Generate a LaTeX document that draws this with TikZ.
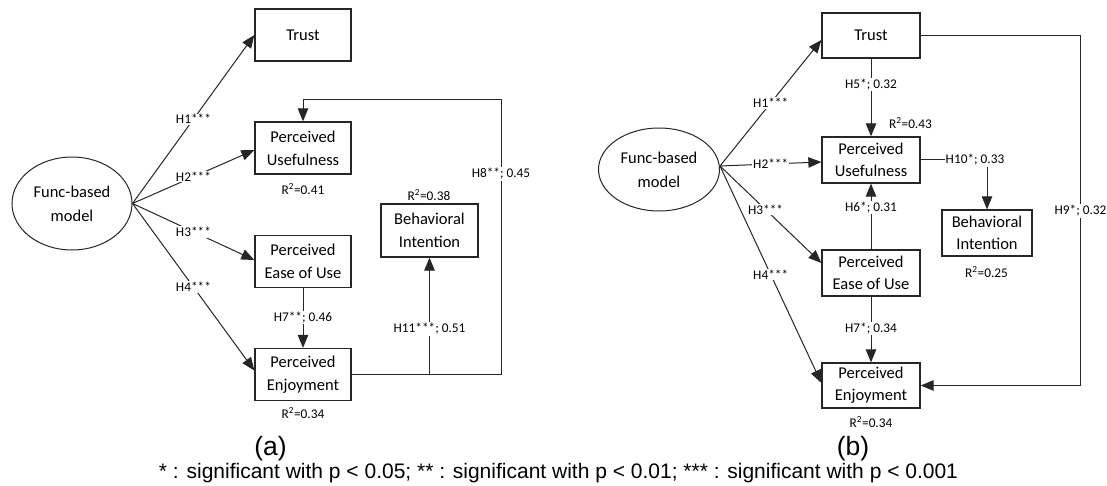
\documentclass[tikz,border=0pt]{standalone}
\usepackage{fontspec}
\setmainfont{Carlito}
\newfontfamily\arialf{Liberation Sans}
\usetikzlibrary{arrows.meta,shapes.geometric}
\definecolor{ink}{HTML}{262626}
\tikzset{
  boxa/.style={draw=ink,line width=1.3pt,minimum width=96pt,minimum height=52pt,inner sep=0pt,align=center,font=\fontsize{16.5}{23}\selectfont,text=black},
  boxb/.style={draw=ink,line width=1.3pt,minimum width=98pt,minimum height=46pt,inner sep=0pt,align=center,font=\fontsize{16.5}{22}\selectfont,text=black},
  ell/.style={draw=ink,line width=1pt,ellipse,inner sep=0pt,align=center,font=\fontsize{16.5}{24}\selectfont,text=black},
  conn/.style={draw=ink,line width=1pt},
  arr/.style={conn,-{Triangle[length=13pt,width=10.5pt]}},
  lbl/.style={fill=white,inner sep=1pt,font=\fontsize{13.3}{15}\selectfont,text=black},
  rsq/.style={inner sep=0pt,font=\fontsize{13.3}{15}\selectfont,text=black},
  capt/.style={inner sep=0pt,font=\arialf\fontsize{26.5}{28}\selectfont,text=black},
  foot/.style={inner sep=0pt,font=\arialf\fontsize{21}{23}\selectfont,text=black}
}
\begin{document}
\begin{tikzpicture}[x=1pt,y=-1pt]
\useasboundingbox[fill=white] (0,0) rectangle (1107,486);
% ---------- panel (a) ----------
\node[ell,minimum width=120pt,minimum height=93pt] (ea) at (72,203.5) {Func-based\\model};
\node[boxa] (ta) at (303,35) {Trust};
\node[boxa] (pua) at (303,148) {Perceived\\Usefulness};
\node[boxa] (peoua) at (303,261.5) {Perceived\\Ease of Use};
\node[boxa] (pea) at (303,374.5) {Perceived\\Enjoyment};
\node[boxa,minimum width=97pt,minimum height=53pt] (bia) at (429.5,230.5) {Behavioral\\Intention};
\coordinate (ca1) at (501,100);
\draw[arr] (ea.east) -- (ta.west) node[lbl,pos=0.5] (la1) {H1***};
\draw[arr] (ea.east) -- ([yshift=-2pt]pua.west) node[lbl,pos=0.5] (la2) {H2***};
\draw[arr] (ea.east) -- ([yshift=1.5pt]peoua.west) node[lbl,pos=0.5] (la3) {H3***};
\draw[arr] (ea.east) -- ([yshift=4pt]pea.west) node[lbl,pos=0.5] (la4) {H4***};
\draw[arr] (peoua.south) -- (pea.north) node[lbl,pos=0.49] (la7) {H7**; 0.46};
\draw[arr] (pea.east) -| (ca1) -| (pua.north);
\node[lbl] (la8) at (501,174) {H8**; 0.45};
\draw[arr] (bia.south |- pea.east) -- (bia.south) node[lbl,pos=0.39] (la11) {H11***; 0.51};
\node[rsq] (ra1) at (303,189) {R\textsuperscript{2}=0.41};
\node[rsq] (ra2) at (429,195) {R\textsuperscript{2}=0.38};
\node[rsq] (ra3) at (303,413) {R\textsuperscript{2}=0.34};
\node[capt] (capa) at (270.5,448.5) {(a)};
% ---------- panel (b) ----------
\node[ell,minimum width=121pt,minimum height=83pt] (eb) at (659,169.5) {Func-based\\model};
\node[boxb,minimum height=45pt] (trb) at (871,35.5) {Trust};
\node[boxb] (pub) at (871,160) {Perceived\\Usefulness};
\node[boxb] (peoub) at (871,273) {Perceived\\Ease of Use};
\node[boxb,minimum height=45pt] (peb) at (871,385.5) {Perceived\\Enjoyment};
\node[boxb,minimum width=90pt] (bib) at (987,233) {Behavioral\\Intention};
\coordinate (cb9) at (1080.5,35.5);
\draw[arr] ([yshift=3.5pt]eb.east) -- ([yshift=-4.5pt]trb.west) node[lbl,pos=0.5] (lb1) {H1***};
\draw[arr] ([yshift=3.5pt]eb.east) -- ([yshift=-2pt]pub.west) node[lbl,pos=0.5] (lb2) {H2***};
\draw[arr] ([yshift=3.5pt]eb.east) -- ([yshift=10pt]peoub.west) node[lbl,pos=0.45] (lb3) {H3***};
\draw[arr] ([yshift=3.5pt]eb.east) -- ([yshift=2.5pt]peb.west) node[lbl,pos=0.5] (lb4) {H4***};
\draw[arr] (trb.south) -- (pub.north) node[lbl,pos=0.33] (lb5) {H5*; 0.32};
\draw[arr] (peoub.north) -- (pub.south) node[lbl,pos=0.64] (lb6) {H6*; 0.31};
\draw[arr] (peoub.south) -- (peb.north) node[lbl,pos=0.49] (lb7) {H7*; 0.34};
\draw[arr] (pub.east) -| (bib.north);
\node[lbl] (lb10) at (975,160) {H10*; 0.33};
\draw[arr] (trb.east) -- (cb9) |- (peb.east);
\node[lbl] (lb9) at (1080.5,211) {H9*; 0.32};
\node[rsq] (rb1) at (910.5,123) {R\textsuperscript{2}=0.43};
\node[rsq] (rb2) at (986.5,272) {R\textsuperscript{2}=0.25};
\node[rsq] (rb3) at (871,422) {R\textsuperscript{2}=0.34};
\node[capt] (capb) at (853,448.5) {(b)};
% ---------- footnote ----------
\node[foot,anchor=base] (fn) at (558.5,478) {* : significant with p < 0.05; ** : significant with p < 0.01; *** : significant with p < 0.001};
\end{tikzpicture}
\end{document}
